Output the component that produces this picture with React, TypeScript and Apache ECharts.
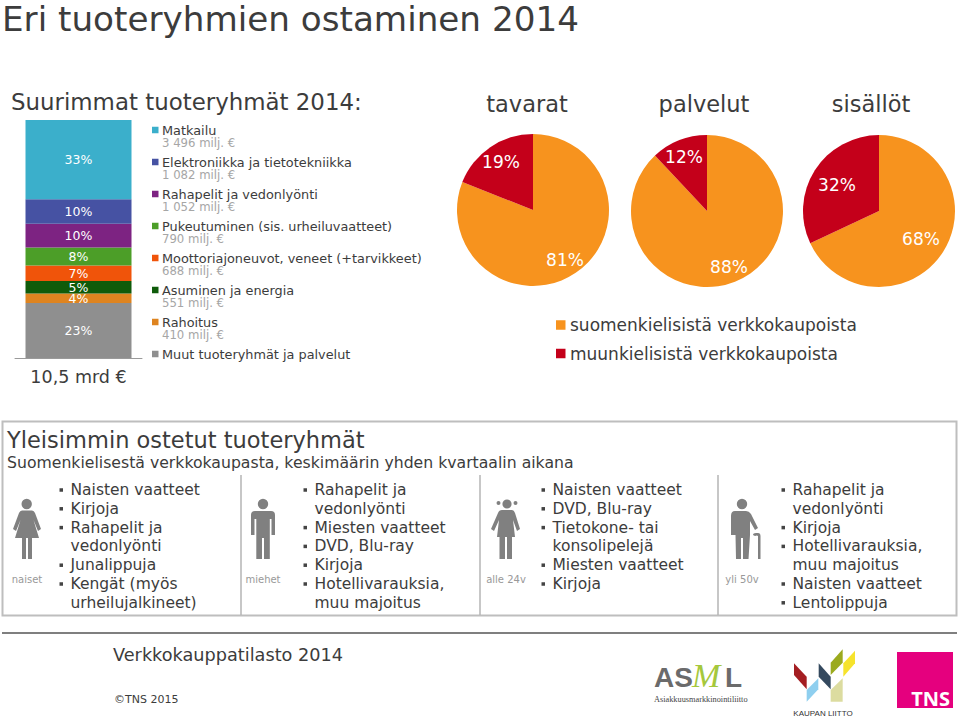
import React, { useEffect, useRef } from "react";
import * as echarts from "echarts";

const FONT = "'DejaVu Sans', Verdana, sans-serif";
const DARK = "#3c3c3c";

const groupNames = ["Matkailu", "Elektroniikka ja tietotekniikka", "Rahapelit ja vedonlyönti", "Pukeutuminen (sis. urheiluvaatteet)", "Moottoriajoneuvot, veneet (+tarvikkeet)", "Asuminen ja energia", "Rahoitus", "Muut tuoteryhmät ja palvelut"];
const groupValues = [3496, 1082, 1052, 790, 688, 551, 410, 2431];
const groupPercents = ["33%", "10%", "10%", "8%", "7%", "5%", "4%", "23%"];
const groupAmounts = ["3 496 milj. €", "1 082 milj. €", "1 052 milj. €", "790 milj. €", "688 milj. €", "551 milj. €", "410 milj. €", ""];
const groupColors = ["#3BAFCB", "#4652A3", "#7D2382", "#4C9E28", "#F0540A", "#0F5B0A", "#DE8420", "#8F8F8F"];
const barTotal = "10,5 mrd €";

const pieTitles = ["tavarat", "palvelut", "sisällöt"];
const pieLegend = ["suomenkielisistä verkkokaupoista", "muunkielisistä verkkokaupoista"];
const pieFinnish = [81, 88, 68];
const pieForeign = [19, 12, 32];
const pieColors = ["#F7931E", "#C4001A"];

const columnLabels = ["naiset", "miehet", "alle 24v", "yli 50v"];
const columnItems = [
  [["Naisten vaatteet"], ["Kirjoja"], ["Rahapelit ja", "vedonlyönti"], ["Junalippuja"], ["Kengät (myös", "urheilujalkineet)"]],
  [["Rahapelit ja", "vedonlyönti"], ["Miesten vaatteet"], ["DVD, Blu-ray"], ["Kirjoja"], ["Hotellivarauksia,", "muu majoitus"]],
  [["Naisten vaatteet"], ["DVD, Blu-ray"], ["Tietokone- tai", "konsolipelejä"], ["Miesten vaatteet"], ["Kirjoja"]],
  [["Rahapelit ja", "vedonlyönti"], ["Kirjoja"], ["Hotellivarauksia,", "muu majoitus"], ["Naisten vaatteet"], ["Lentolippuja"]],
];

// layout (pixels)
const pieCenters = [[533, 210], [707, 211], [879, 211]];
const pieTitleX = [527, 704, 871];
const pieLabelPos = [[[565, 260], [501, 162]], [[729, 267], [684, 157]], [[921, 239], [837, 185]]];
const columnBulletX = [61, 305, 543, 783];
const columnLabelX = [27, 263, 506, 742];

const circle = (x: number, y: number, r: number) => `M${x - r} ${y}a${r} ${r} 0 1 0 ${2 * r} 0a${r} ${r} 0 1 0 ${-2 * r} 0Z`;
const iconPaths = [
  circle(26.7, 504, 5.2) + "M22 510.5L32 510.5Q34 510.5 35 513L41 529L38 531L33.5 520L39 538L32 538L32 559L28 559L28 538L26 538L26 559L22 559L22 538L15 538L20.5 520L16 531L13 529L19 513Q20 510.5 22 510.5Z",
  circle(263, 504, 5.2) + "M255 511L271 511Q275 511 275 515L275 535L271.5 535L271.5 519L269.8 519L269.8 559L264 559L264 538L262 538L262 559L256.3 559L256.3 519L254.5 519L254.5 535L251 535L251 515Q251 511 255 511Z",
  circle(507, 504, 4.6) + circle(498.5, 503, 2) + circle(515.5, 503, 2) + "M502 510L512 510Q514 510 515 513L520 529L517 531L513 520L515 537L512 537L512 559L507 559L507 537L505 537L505 559L499.5 559L499.5 537L497 537L499 520L494 531L491 529L498 513Q499 510 502 510Z",
  circle(742, 504, 5.2) + "M735 511L746 511Q749 511 751 514L758 528L755 530L750 521L750 535L748.5 559L743 559L743 538L741 538L741 559L736 559L735.5 535L731 535L731 516Q731 511 735 511Z M753 535Q753 533 756 533L758 533Q760.5 533 760.5 536L760.5 559L758 559L758 536Q757 535 755 536Z",
];
const kaupanShapes: [string, number[][]][] = [
  ["#A41E22", [[462, 100], [500, 140], [500, 178], [462, 135]]],
  ["#8FCFEF", [[535, 145], [535, 178], [500, 215], [500, 180]]],
  ["#34495E", [[536, 100], [572, 140], [572, 178], [536, 140]]],
  ["#9BAA1E", [[608, 58], [608, 98], [572, 135], [572, 98]]],
  ["#F6E32C", [[645, 62], [645, 100], [610, 140], [610, 100]]],
  ["#DCDCA0", [[572, 180], [608, 145], [608, 215], [572, 215]]],
];

const text = (value: string, x: number, y: number, fontSize: number, fill = DARK, extra: any = {}) => ({
  type: "text",
  x,
  y,
  silent: true,
  style: { text: value, x: 0, y: 0, fontSize, fill, fontFamily: FONT, verticalAlign: "middle", align: "left", ...extra },
});
const square = (x: number, y: number, size: number, fill: string) => ({ type: "rect", silent: true, shape: { x, y: y - size / 2, width: size, height: size }, style: { fill } });
const vline = (x: number, y1: number, y2: number) => ({ type: "line", silent: true, shape: { x1: x, y1, x2: x, y2 }, style: { stroke: "#B4B4B4", lineWidth: 1.5 } });

function buildGraphics() {
  const g: any[] = [];
  g.push(text("Eri tuoteryhmien ostaminen 2014", 2, 19, 34.2));
  g.push(text("Suurimmat tuoteryhmät 2014:", 11, 102, 22.9));

  groupNames.forEach((name, i) => {
    const y = 130 + i * 32;
    g.push(square(152, y, 6.5, groupColors[i]));
    g.push(text(name, 162, y, 12.85));
    if (groupAmounts[i]) g.push(text(groupAmounts[i], 162, y + 13, 11.7, "#A6A6A6"));
  });

  pieTitles.forEach((t, i) => g.push(text(t, pieTitleX[i], 104, 22.5, DARK, { align: "center" })));
  pieLegend.forEach((t, i) => {
    const y = 325 + i * 28.5;
    g.push(square(556, y, 9.5, pieColors[i]));
    g.push(text(t, 570, y, 17));
  });

  g.push({ type: "rect", silent: true, shape: { x: 2.5, y: 421.5, width: 954, height: 194 }, style: { fill: "none", stroke: "#BEBEBE", lineWidth: 2 } });
  g.push(vline(241, 475, 615), vline(480, 475, 615), vline(718, 475, 615));
  g.push(text("Yleisimmin ostetut tuoteryhmät", 7, 440, 22.5));
  g.push(text("Suomenkielisestä verkkokaupasta, keskimäärin yhden kvartaalin aikana", 7, 462, 15.7));

  columnItems.forEach((items, c) => {
    let line = 0;
    const bx = columnBulletX[c];
    g.push({ type: "iconShape" + c, silent: true, x: 0, y: 0, style: { fill: "#808080" } });
    g.push(text(columnLabels[c], columnLabelX[c], 579, 10, "#999999", { align: "center" }));
    items.forEach((item) => {
      item.forEach((row, r) => {
        const y = 490 + line * 18.8;
        if (r === 0) g.push(square(bx - 1.5, y, 3.5, "#444444"));
        g.push(text(row, bx + 9.5, y, 15.5));
        line++;
      });
    });
  });

  g.push({ type: "line", silent: true, shape: { x1: 2, y1: 633, x2: 957, y2: 633 }, style: { stroke: "#555555", lineWidth: 1.5 } });
  g.push(text("Verkkokauppatilasto 2014", 113, 655, 17.7));
  g.push(text("©TNS 2015", 114, 699, 11));

  g.push(text("AS", 654, 677, 28, "#6B6B6B", { fontWeight: "bold", fontFamily: "'Liberation Sans', sans-serif" }));
  g.push(text("M", 692, 675, 34, "#A5C83C", { fontStyle: "italic", fontFamily: "'Liberation Serif', serif" }));
  g.push(text("L", 725, 677, 28, "#6B6B6B", { fontWeight: "bold", fontFamily: "'Liberation Sans', sans-serif" }));
  g.push(text("Asiakkuusmarkkinointiliitto", 654, 699, 8.3, "#444444", { fontFamily: "'Liberation Serif', serif" }));

  kaupanShapes.forEach(([fill, pts]) =>
    g.push({ type: "polygon", silent: true, shape: { points: pts.map(([x, y]) => [640 + x / 3, 630 + y / 3]) }, style: { fill } })
  );
  g.push(text("KAUPAN LIITTO", 823, 713, 8, "#333333", { align: "center", fontFamily: "'Liberation Sans', sans-serif" }));

  g.push({ type: "rect", silent: true, shape: { x: 897, y: 652, width: 56, height: 56 }, style: { fill: "#E5007E" } });
  g.push(text("TNS", 950, 698, 20, "#FFFFFF", { align: "right", fontWeight: "bold", fontFamily: "'Open Sans', sans-serif" }));
  return g;
}

export default function App() {
  const ref = useRef<HTMLDivElement>(null);
  useEffect(() => {
    document.body.style.margin = "0";
    iconPaths.forEach((d, i) => echarts.graphic.registerShape("iconShape" + i, echarts.graphic.extendPath(d, {})));
    const chart = echarts.init(ref.current!, null, { renderer: "svg" });
    const barSeries = groupNames
      .map((name, i) => ({
        type: "bar",
        name,
        stack: "total",
        barWidth: 106,
        xAxisIndex: 0,
        yAxisIndex: 0,
        data: [groupValues[i]],
        itemStyle: { color: groupColors[i] },
        label: { show: true, position: "inside", formatter: groupPercents[i], color: "#FFFFFF", fontSize: 12.5, lineHeight: 10, fontFamily: FONT },
      }))
      .reverse();
    const pieSeries = pieTitles.map((name, i) => ({
      type: "pie",
      name,
      center: pieCenters[i],
      radius: 76,
      startAngle: 90,
      clockwise: true,
      avoidLabelOverlap: false,
      data: [
        { name: pieLegend[0], value: pieFinnish[i], itemStyle: { color: pieColors[0] } },
        { name: pieLegend[1], value: pieForeign[i], itemStyle: { color: pieColors[1] } },
      ],
      label: { show: true, position: "inside", formatter: "{c}%", color: "#FFFFFF", fontSize: 17, fontFamily: FONT },
      labelLine: { show: false },
      labelLayout: (p: any) => ({ x: pieLabelPos[i][p.dataIndex][0], y: pieLabelPos[i][p.dataIndex][1], align: "center", verticalAlign: "middle" }),
    }));
    chart.setOption({
      animation: false,
      backgroundColor: "#FFFFFF",
      grid: { left: 15, top: 120, width: 127, height: 238, containLabel: false },
      xAxis: {
        type: "category",
        data: [barTotal],
        axisLine: { lineStyle: { color: "#9A9A9A", width: 1 } },
        axisTick: { show: false },
        axisLabel: { color: DARK, fontSize: 17.5, fontFamily: FONT, margin: 10 },
      },
      yAxis: { type: "value", min: 0, max: groupValues.reduce((a, b) => a + b, 0), show: false },
      series: [...barSeries, ...pieSeries],
      graphic: buildGraphics(),
    });
    return () => chart.dispose();
  }, []);
  return <div ref={ref} style={{ width: 960, height: 718 }} />;
}
